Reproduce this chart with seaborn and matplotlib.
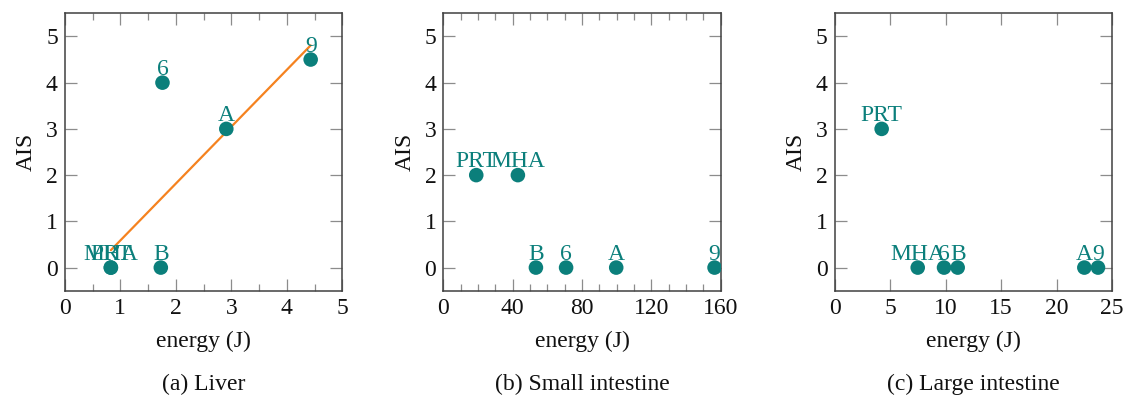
import numpy as np
import pandas as pd
import matplotlib
matplotlib.use("Agg")
import matplotlib.pyplot as plt
import seaborn as sns
from matplotlib.ticker import MultipleLocator

sns.set_theme(style="ticks")
plt.rcParams['font.family'] = ['Liberation Serif', 'DejaVu Serif']

# ---- data ----
liver_labels = ["PRT", "MHA", "B", "6", "A", "9"]
liver_energy = [0.83, 0.83, 1.73, 1.76, 2.91, 4.43]
liver_ais = [0, 0, 0, 4, 3, 4.5]

small_labels = ["PRT", "MHA", "B", "6", "A", "9"]
small_energy = [19.0, 43.0, 53.4, 70.8, 99.7, 156.4]
small_ais = [2, 2, 0, 0, 0, 0]

large_labels = ["PRT", "MHA", "6", "B", "A", "9"]
large_energy = [4.23, 7.48, 9.85, 11.08, 22.49, 23.72]
large_ais = [3, 0, 0, 0, 0, 0]

captions = ["(a) Liver", "(b) Small intestine", "(c) Large intestine"]
xlims = [(0, 5), (0, 160), (0, 25)]
xmajor = [1, 40, 5]
xminor = [0.5, 10, None]

TEAL = "#0b7f7b"
ORANGE = "#f5821f"
SPINE = "#404040"
TICKC = "#8c8c8c"
FS = 17

fig = plt.figure(figsize=(11.28, 3.98), dpi=100)
W, H = 1128, 398
lefts = [64.8, 443.3, 834.7]
width = 277.5
top, bottom = 13.3, 290.7

datasets = [
    (liver_labels, liver_energy, liver_ais),
    (small_labels, small_energy, small_ais),
    (large_labels, large_energy, large_ais),
]

for i, (labels, xs, ys) in enumerate(datasets):
    ax = fig.add_axes([lefts[i] / W, 1 - bottom / H, width / W, (bottom - top) / H])
    df = pd.DataFrame({"energy": xs, "AIS": ys, "label": labels})
    if i == 0:
        sns.regplot(data=df, x="energy", y="AIS", scatter=False, ci=None,
                    truncate=True, color=ORANGE, line_kws={"lw": 1.6, "zorder": 2}, ax=ax)
    sns.scatterplot(data=df, x="energy", y="AIS", color=TEAL, s=110,
                    edgecolor="none", zorder=3, ax=ax)
    for _, r in df.iterrows():
        ax.annotate(r["label"], (r["energy"], r["AIS"]), xytext=(0, 5.5),
                    textcoords="offset points", ha="center", va="baseline",
                    color=TEAL, fontsize=FS, zorder=4)
    ax.set_xlim(*xlims[i])
    ax.set_ylim(-0.5, 5.5)
    ax.xaxis.set_major_locator(MultipleLocator(xmajor[i]))
    if xminor[i]:
        ax.xaxis.set_minor_locator(MultipleLocator(xminor[i]))
    ax.yaxis.set_major_locator(MultipleLocator(1))
    ax.tick_params(which="both", direction="in", top=True, right=True,
                   color=TICKC, labelsize=FS, labelcolor="#111111", pad=5)
    ax.tick_params(which="major", length=8.3, width=0.9)
    ax.tick_params(which="minor", length=5, width=0.9)
    for sp in ax.spines.values():
        sp.set_color(SPINE)
        sp.set_linewidth(1.1)
    ax.set_xlabel("energy (J)", fontsize=FS, color="#111111")
    ax.set_ylabel("AIS", fontsize=FS, color="#111111")
    ax.xaxis.set_label_coords(0.5, -0.145)
    ax.yaxis.set_label_coords(-0.10, 0.5)
    cx = (lefts[i] + width / 2) / W
    fig.text(cx, 1 - 384 / H, captions[i], ha="center", va="center",
             fontsize=FS, color="#111111")

fig.savefig("out.png", dpi=100)
